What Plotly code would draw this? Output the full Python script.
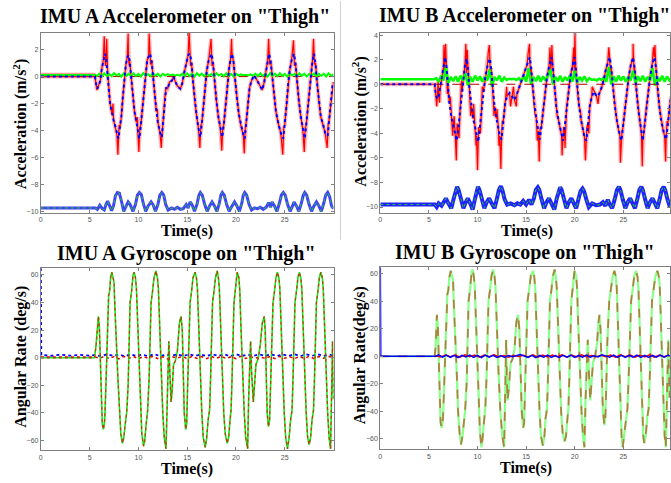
import numpy as np
import plotly.graph_objects as go

# ---------------- DATA ----------------
TIME_TICKS_LEFT = [0, 5, 10, 15, 20, 25]
TIME_TICKS_RIGHT = [0, 5, 10, 15, 20, 25]
ACC_A_TICKS = [-10, -8, -6, -4, -2, 0, 2]
ACC_B_TICKS = [-10, -8, -6, -4, -2, 0, 2, 4]
GYRO_TICKS = [-60, -40, -20, 0, 20, 40, 60]

TITLES = ['IMU A Accelerometer on "Thigh"', 'IMU B Accelerometer on "Thigh"',
          'IMU A Gyroscope on "Thigh"', 'IMU B Gyroscope on "Thigh"']
YLABELS = ['Acceleration (m/s<sup>2</sup>)', 'Acceleration (m/s<sup>2</sup>)',
           'Angular Rate (deg/s)', 'Angular Rate(deg/s)']
XLABEL = 'Time(s)'

# IMU A accelerometer, forward axis (smooth estimate, blue dotted / red)
ACC_A_X = [(0, 0.0), (5.55, 0.0), (5.65, -0.5), (5.8, -0.9), (5.95, -0.6), (6.1, -0.3), (6.25, 0.6), (6.4, 1.2),
           (6.58, 1.7), (6.7, 1.3), (6.85, 0.3), (6.95, -0.8), (7.1, -2.0), (7.3, -2.8), (7.45, -3.2), (7.6, -3.6),
           (7.8, -4.3), (7.95, -4.6), (8.1, -3.8), (8.25, -3.0), (8.4, -1.6), (8.55, -0.3), (8.7, 0.8), (8.85, 1.4),
           (8.98, 1.6), (9.1, 1.2), (9.25, 0.0), (9.4, -1.5), (9.6, -2.6), (9.8, -3.4), (9.95, -4.2), (10.1, -4.6),
           (10.25, -3.6), (10.45, -2.0), (10.6, -0.8), (10.75, 0.4), (10.9, 1.2), (11.05, 1.5), (11.2, 1.7),
           (11.35, 1.2), (11.5, 0.0), (11.65, -1.4), (11.85, -2.6), (12.0, -3.4), (12.2, -4.1), (12.4, -4.5),
           (12.55, -3.2), (12.7, -1.6), (12.85, -0.8), (13.0, -0.9), (13.2, -0.4), (13.45, -0.3), (13.6, 0.0),
           (13.8, -0.4), (14.0, -0.7), (14.3, -0.9), (14.5, -0.5), (14.7, 0.3), (14.9, 1.0), (15.1, 1.6),
           (15.3, 1.7), (15.45, 1.0), (15.6, -0.4), (15.75, -1.6), (15.95, -2.8), (16.15, -3.8), (16.35, -4.5),
           (16.5, -3.5), (16.7, -2.0), (16.85, -0.6), (17.0, 0.4), (17.2, 1.2), (17.5, 1.7), (17.65, 1.0),
           (17.8, -0.4), (18.0, -1.8), (18.2, -3.0), (18.4, -3.8), (18.6, -4.5), (18.75, -3.6), (18.95, -2.0),
           (19.1, -0.6), (19.3, 0.6), (19.45, 1.3), (19.6, 1.7), (19.75, 1.1), (19.9, -0.2), (20.1, -1.6),
           (20.3, -2.8), (20.55, -3.8), (20.75, -4.3), (20.9, -4.6), (21.05, -3.4), (21.25, -1.8), (21.4, -0.8),
           (21.6, -0.3), (21.85, 0.1), (22.1, -0.2), (22.4, -0.6), (22.7, -1.0), (22.9, -0.4), (23.1, 0.5),
           (23.25, 1.2), (23.4, 1.7), (23.55, 1.2), (23.7, 0.0), (23.9, -1.4), (24.1, -2.6), (24.35, -3.5),
           (24.6, -4.2), (24.85, -4.6), (25.0, -3.6), (25.2, -2.0), (25.35, -0.6), (25.5, 0.4), (25.7, 1.2),
           (25.95, 1.7), (26.1, 1.0), (26.25, -0.4), (26.45, -1.8), (26.65, -3.0), (26.85, -3.9), (27.05, -4.6),
           (27.2, -3.6), (27.4, -2.0), (27.55, -0.6), (27.7, 0.5), (27.85, 1.2), (28.0, 1.7), (28.15, 1.0),
           (28.3, -0.4), (28.5, -1.8), (28.7, -3.0), (28.95, -3.6), (29.15, -4.2), (29.4, -4.4), (29.55, -3.2),
           (29.75, -1.8), (29.9, -0.6), (30.0, -0.4)]
# extra raw-signal excursions of the red (measured) trace
ACC_A_X_SPIKES = [(5.75, -1.0), (6.5, 3.0), (6.62, 0.8), (6.75, 2.8), (7.4, -2.0), (7.9, -5.8), (8.02, -3.6),
                  (8.95, 3.2), (9.05, 0.8), (9.9, -3.0), (10.05, -5.6), (10.15, -3.8), (11.1, 3.2), (11.25, 0.9),
                  (11.95, -2.4), (12.35, -5.3), (12.45, -3.8), (15.2, 3.3), (15.35, 0.8), (16.3, -5.3),
                  (16.4, -3.6), (17.45, 2.8), (17.55, 0.8), (18.55, -5.5), (18.65, -3.8), (19.55, 2.8),
                  (20.85, -5.7), (20.95, -3.8), (23.35, 2.8), (23.45, 0.9), (24.8, -5.8), (24.9, -3.8),
                  (25.9, 2.7), (26.0, 0.8), (27.0, -5.6), (27.1, -3.8), (27.95, 2.8), (28.05, 0.9),
                  (29.35, -5.3), (29.45, -3.5)]
# IMU A accelerometer, lateral axis (green), sampled every 0.25 s from 5.5 s
ACC_A_Y_LEVEL = 0.12
ACC_A_Y = [0.12, 0.05, 0.22, 0.00, 0.25, 0.05, 0.20, 0.02, 0.26, 0.08,
           0.20, 0.00, 0.24, 0.06, 0.22, 0.02, 0.25, 0.04, 0.20, 0.00,
           0.26, 0.08, 0.18, 0.03, 0.24, 0.05, 0.22, 0.00, 0.20, 0.08,
           0.18, 0.10, 0.15, 0.08, 0.14, 0.06, 0.22, 0.02, 0.25, 0.04,
           0.20, 0.00, 0.26, 0.06, 0.22, 0.02, 0.24, 0.05, 0.20, 0.00,
           0.25, 0.08, 0.20, 0.03, 0.24, 0.05, 0.20, 0.00, 0.22, 0.08,
           0.16, 0.10, 0.14, 0.08, 0.16, 0.06, 0.22, 0.02, 0.25, 0.04,
           0.20, 0.00, 0.26, 0.06, 0.22, 0.02, 0.24, 0.05, 0.20, 0.00,
           0.25, 0.08, 0.20, 0.03, 0.24, 0.05, 0.22, 0.00, 0.20, 0.06,
           0.24, 0.02, 0.20, 0.05, 0.22, 0.00, 0.25, 0.06, 0.18]
# IMU A accelerometer, vertical axis (blue, near gravity)
ACC_A_Z = [(0, -9.75), (5.6, -9.75), (5.8, -9.85), (6.05, -9.55), (6.3, -9.8), (6.5, -9.9), (6.7, -9.45),
           (6.85, -9.25), (7.0, -9.5), (7.25, -9.95), (7.45, -9.6), (7.65, -8.85), (7.85, -8.6), (8.05, -8.65),
           (8.25, -9.2), (8.5, -10.0), (8.75, -9.6), (8.95, -9.3), (9.15, -9.5), (9.45, -10.0), (9.7, -9.5),
           (9.9, -8.8), (10.1, -8.6), (10.3, -8.75), (10.5, -9.4), (10.75, -10.0), (11.0, -9.6), (11.3, -9.3),
           (11.5, -9.5), (11.75, -10.0), (12.0, -9.5), (12.2, -8.8), (12.4, -8.6), (12.6, -8.8), (12.8, -9.5),
           (13.05, -9.9), (13.4, -9.75), (13.7, -9.85), (14.0, -9.7), (14.3, -9.85), (14.6, -9.8), (14.9, -9.5),
           (15.1, -9.75), (15.3, -9.3), (15.5, -9.5), (15.75, -10.0), (16.0, -9.5), (16.2, -8.8), (16.35, -8.6),
           (16.55, -8.8), (16.8, -9.5), (17.05, -10.0), (17.3, -9.6), (17.55, -9.3), (17.8, -9.6), (18.05, -10.0),
           (18.3, -9.4), (18.45, -8.8), (18.6, -8.6), (18.8, -8.8), (19.05, -9.5), (19.3, -10.0), (19.6, -9.6),
           (19.85, -9.3), (20.1, -9.6), (20.35, -10.0), (20.6, -9.4), (20.75, -8.8), (20.9, -8.6), (21.1, -8.8),
           (21.35, -9.5), (21.6, -9.9), (21.9, -9.75), (22.2, -9.8), (22.5, -9.7), (22.8, -9.85), (23.1, -9.7),
           (23.35, -9.35), (23.55, -9.7), (23.7, -9.3), (23.95, -9.6), (24.2, -10.0), (24.45, -9.4),
           (24.65, -8.8), (24.85, -8.6), (25.05, -8.8), (25.3, -9.5), (25.55, -10.0), (25.8, -9.6), (25.95, -9.3),
           (26.2, -9.6), (26.45, -10.0), (26.7, -9.4), (26.9, -8.8), (27.05, -8.6), (27.25, -8.8), (27.5, -9.5),
           (27.75, -10.0), (28.0, -9.6), (28.25, -9.3), (28.5, -9.6), (28.75, -10.0), (29.0, -9.4), (29.2, -8.8),
           (29.4, -8.6), (29.6, -8.9), (29.8, -9.6), (30.0, -9.8)]

# IMU B accelerometer, forward axis
ACC_B_X = [(0, 0.0), (5.6, 0.0), (5.7, -0.8), (5.85, -1.2), (6.0, -1.0), (6.15, -0.4), (6.3, 0.4), (6.5, 1.4),
           (6.66, 2.2), (6.8, 1.5), (6.95, 0.0), (7.1, -1.5), (7.3, -2.6), (7.5, -3.3), (7.7, -4.0), (7.86, -4.6),
           (8.0, -3.8), (8.2, -2.2), (8.4, -0.6), (8.55, 0.6), (8.7, 1.5), (8.88, 2.1), (9.0, 1.4), (9.15, -0.2),
           (9.35, -1.8), (9.55, -2.8), (9.75, -3.5), (9.9, -4.2), (10.07, -4.7), (10.2, -3.8), (10.4, -2.2),
           (10.6, -0.6), (10.8, 0.6), (11.0, 1.4), (11.27, 2.1), (11.4, 1.3), (11.55, -0.2), (11.75, -1.8),
           (11.95, -2.8), (12.15, -3.6), (12.3, -4.2), (12.47, -4.5), (12.65, -3.0), (12.85, -1.5), (13.05, -1.0),
           (13.3, -0.7), (13.55, -1.0), (13.8, -1.3), (14.05, -0.8), (14.3, -0.2), (14.55, 0.4), (14.8, 1.0),
           (15.1, 1.6), (15.37, 2.2), (15.5, 1.4), (15.65, 0.0), (15.85, -1.6), (16.05, -2.8), (16.25, -3.8),
           (16.4, -4.5), (16.55, -3.6), (16.75, -2.0), (16.95, -0.6), (17.15, 0.6), (17.35, 1.4), (17.6, 2.2),
           (17.75, 1.4), (17.9, -0.2), (18.1, -1.8), (18.3, -2.8), (18.5, -3.6), (18.65, -4.2), (18.8, -4.6),
           (18.95, -3.6), (19.15, -2.0), (19.35, -0.6), (19.55, 0.6), (19.75, 1.4), (19.98, 2.2), (20.1, 1.4),
           (20.25, -0.2), (20.45, -1.8), (20.65, -2.9), (20.85, -3.7), (21.0, -4.3), (21.2, -4.6), (21.35, -3.2),
           (21.55, -1.8), (21.75, -1.0), (22.0, -0.6), (22.25, -1.0), (22.5, -0.8), (22.75, -0.3), (23.0, 0.4),
           (23.2, 1.2), (23.4, 1.8), (23.6, 2.2), (23.75, 1.4), (23.9, 0.0), (24.1, -1.6), (24.3, -2.8),
           (24.5, -3.7), (24.65, -4.2), (24.8, -4.6), (24.95, -3.6), (25.15, -2.0), (25.35, -0.6), (25.55, 0.6),
           (25.75, 1.5), (26.0, 2.2), (26.15, 1.4), (26.3, -0.2), (26.5, -1.8), (26.7, -3.0), (26.85, -3.9),
           (27.0, -4.6), (27.15, -3.6), (27.35, -2.0), (27.55, -0.6), (27.75, 0.6), (27.95, 1.5), (28.2, 2.2),
           (28.35, 1.4), (28.5, -0.2), (28.7, -1.8), (28.9, -3.0), (29.1, -3.8), (29.25, -4.2), (29.4, -4.5),
           (29.55, -3.4), (29.75, -2.0), (29.9, -1.0)]
ACC_B_X_SPIKES = [(5.8, -1.8), (5.95, 0.3), (6.1, -1.5), (6.55, 3.2), (6.6, 0.8), (6.72, 3.3), (6.9, -0.8),
                  (7.2, -1.0), (7.45, -4.2), (7.6, -2.6), (7.82, -6.2), (7.9, -3.2), (8.1, -4.4), (8.35, 0.3),
                  (8.8, 3.3), (8.85, 0.9), (8.95, 2.8), (9.3, -2.6), (9.6, -1.6), (9.85, -5.0), (10.0, -7.0),
                  (10.1, -3.5), (10.3, -4.0), (10.5, -0.2), (11.1, 2.6), (11.22, 3.2), (11.3, 0.9), (11.7, -2.6),
                  (12.0, -2.0), (12.2, -5.0), (12.4, -6.9), (12.55, -3.0), (12.75, -2.4), (13.0, -0.2),
                  (13.4, -1.8), (13.7, -0.2), (14.0, -1.8), (15.2, 2.5), (15.35, 3.3), (15.45, 0.8), (15.9, -2.4),
                  (16.15, -4.6), (16.35, -6.3), (16.45, -3.5), (17.45, 3.0), (17.55, 1.0), (17.65, 3.2),
                  (18.2, -2.6), (18.7, -5.8), (18.85, -3.5), (19.0, -5.2), (19.9, 3.0), (19.95, 1.0), (20.02, 4.2),
                  (20.15, 0.5), (20.6, -2.2), (21.1, -6.2), (21.25, -3.5), (21.45, -4.0), (21.8, -0.2),
                  (22.4, -1.6), (23.5, 3.0), (23.65, 1.0), (24.2, -2.0), (24.7, -6.4), (24.85, -4.0), (26.0, 3.3),
                  (26.1, 1.0), (26.95, -6.7), (27.1, -4.0), (28.1, 3.0), (28.25, 3.2), (28.4, 0.5), (29.35, -6.3),
                  (29.5, -3.0)]
ACC_B_Y_LEVEL = 0.4
ACC_B_Y = [0.4, 0.5, 0.2, 0.7, 0.3, 1.4, 0.1, 0.6, 0.25, 0.65,
           0.2, 0.7, 0.3, 0.9, -0.1, 0.6, 0.2, 0.7, 0.3, 0.65,
           0.2, 0.6, 0.3, 1.2, -0.2, 0.6, 0.3, 0.7, 0.2, 0.55,
           0.35, 0.45, 0.4, 0.45, 0.35, 0.5, 0.25, 0.7, 0.2, 1.3,
           0.0, 0.6, 0.25, 0.7, 0.2, 0.65, 0.3, 0.7, 1.2, 0.0,
           0.6, 0.25, 0.7, 0.2, 0.6, 0.3, 0.7, 0.2, 1.1, 0.1,
           0.6, 0.3, 0.65, 0.25, 0.5, 0.35, 0.4, 0.3, 0.45, 0.35,
           0.55, 0.2, 1.4, 0.0, 0.65, 0.2, 0.7, 0.3, 0.65, 0.2,
           0.6, 0.3, 1.1, 0.1, 0.65, 0.25, 0.7, 0.2, 0.6, 0.3,
           1.3, -0.1, 0.6, 0.25, 0.7, 0.2, 0.65, 0.3, 0.5]
ACC_B_Z = [(0, -9.8), (5.6, -9.8), (5.8, -10.0), (6.0, -9.7), (6.3, -9.9), (6.5, -9.6), (6.75, -9.3), (7.0, -9.7),
           (7.3, -10.1), (7.55, -9.3), (7.75, -8.6), (7.9, -8.35), (8.05, -8.6), (8.3, -9.3), (8.55, -10.1),
           (8.8, -9.6), (9.0, -9.3), (9.25, -9.7), (9.5, -10.2), (9.75, -9.3), (9.9, -8.6), (10.05, -8.35),
           (10.2, -8.6), (10.45, -9.4), (10.7, -10.1), (10.95, -9.6), (11.2, -9.3), (11.45, -9.7), (11.75, -10.1),
           (12.0, -9.3), (12.2, -8.6), (12.4, -8.3), (12.55, -8.6), (12.8, -9.4), (13.05, -9.8), (13.4, -9.7),
           (13.8, -9.85), (14.1, -9.7), (14.4, -9.8), (14.7, -9.5), (15.0, -9.8), (15.3, -9.4), (15.55, -9.8),
           (15.8, -9.3), (16.0, -8.6), (16.2, -8.4), (16.35, -8.6), (16.6, -9.4), (16.85, -10.1), (17.1, -9.6),
           (17.35, -9.3), (17.6, -9.7), (17.9, -10.2), (18.15, -9.3), (18.35, -8.6), (18.5, -8.4), (18.65, -8.6),
           (18.9, -9.4), (19.15, -10.1), (19.4, -9.6), (19.65, -9.3), (19.9, -9.7), (20.15, -10.1), (20.4, -9.3),
           (20.6, -8.7), (20.8, -8.5), (20.95, -8.7), (21.2, -9.4), (21.45, -10.0), (21.8, -9.7), (22.2, -9.85),
           (22.6, -9.8), (22.9, -9.6), (23.15, -9.9), (23.4, -9.4), (23.6, -9.8), (23.85, -10.1), (24.1, -9.4),
           (24.35, -8.6), (24.55, -8.35), (24.7, -8.6), (24.95, -9.4), (25.2, -10.1), (25.45, -9.6), (25.7, -9.3),
           (25.95, -9.7), (26.2, -10.1), (26.45, -9.3), (26.65, -8.6), (26.85, -8.35), (27.0, -8.6),
           (27.25, -9.4), (27.5, -10.1), (27.75, -9.6), (28.0, -9.3), (28.25, -9.7), (28.5, -10.1), (28.75, -9.3),
           (28.95, -8.6), (29.15, -8.35), (29.3, -8.6), (29.55, -9.4), (29.8, -10.0)]

# IMU A gyroscope, sagittal axis (large swings)
GYRO_A_Z = [(0, 0), (5.5, 0), (5.65, 8), (5.8, 25), (5.9, 30), (6.0, 22), (6.1, 0), (6.2, -30), (6.3, -48),
            (6.42, -52), (6.55, -45), (6.65, -25), (6.75, 0), (6.85, 25), (6.95, 45), (7.05, 48), (7.15, 58),
            (7.27, 62), (7.4, 58), (7.5, 55), (7.6, 35), (7.7, 10), (7.8, 2), (7.9, -15), (8.05, -40),
            (8.2, -55), (8.37, -62), (8.5, -58), (8.65, -48), (8.8, -40), (8.95, -20), (9.05, 10), (9.15, 40),
            (9.3, 48), (9.45, 60), (9.57, 62), (9.7, 58), (9.8, 50), (9.9, 30), (10.0, 5), (10.1, -5),
            (10.2, -30), (10.35, -55), (10.53, -64), (10.65, -60), (10.8, -48), (10.95, -38), (11.1, -15),
            (11.2, 15), (11.3, 40), (11.45, 48), (11.6, 58), (11.8, 63), (11.95, 58), (12.05, 50), (12.15, 25),
            (12.25, 3), (12.35, -10), (12.5, -40), (12.65, -58), (12.83, -66), (12.95, -30), (13.05, 5),
            (13.12, 12), (13.22, -10), (13.35, -32), (13.45, -25), (13.6, -5), (13.8, -2), (14.0, 5),
            (14.2, 25), (14.37, 30), (14.5, 20), (14.6, -10), (14.7, -40), (14.85, -52), (14.95, -48),
            (15.05, -20), (15.15, 10), (15.3, 40), (15.45, 48), (15.6, 58), (15.8, 62), (15.95, 58), (16.05, 50),
            (16.15, 25), (16.25, 3), (16.35, -10), (16.5, -40), (16.65, -58), (16.85, -65), (17.0, -58),
            (17.15, -45), (17.3, -38), (17.4, -15), (17.5, 15), (17.6, 40), (17.75, 48), (17.9, 58),
            (18.08, 63), (18.2, 58), (18.3, 50), (18.4, 25), (18.5, 2), (18.6, -10), (18.75, -40), (18.9, -55),
            (19.1, -62), (19.25, -58), (19.4, -45), (19.5, -38), (19.6, -15), (19.7, 15), (19.8, 40),
            (19.95, 50), (20.13, 62), (20.3, 58), (20.4, 48), (20.5, 25), (20.6, 3), (20.7, -10), (20.85, -40),
            (21.0, -58), (21.2, -66), (21.3, -30), (21.42, 5), (21.5, 12), (21.6, -10), (21.78, -32),
            (21.9, -20), (22.05, -5), (22.3, 0), (22.5, 10), (22.7, 25), (22.9, 30), (23.0, 20), (23.1, -10),
            (23.2, -40), (23.33, -50), (23.45, -45), (23.55, -20), (23.65, 10), (23.8, 40), (23.95, 48),
            (24.1, 58), (24.25, 62), (24.4, 58), (24.5, 50), (24.6, 25), (24.7, 3), (24.8, -10), (24.95, -40),
            (25.1, -58), (25.28, -66), (25.45, -58), (25.6, -45), (25.75, -38), (25.85, -15), (25.95, 15),
            (26.05, 40), (26.2, 48), (26.35, 58), (26.5, 62), (26.65, 58), (26.75, 50), (26.85, 25), (26.95, 3),
            (27.05, -10), (27.2, -40), (27.35, -58), (27.5, -63), (27.65, -58), (27.8, -45), (27.95, -38),
            (28.05, -15), (28.15, 15), (28.25, 40), (28.4, 48), (28.55, 58), (28.7, 62), (28.85, 58),
            (28.95, 50), (29.05, 25), (29.15, 3), (29.25, -10), (29.4, -40), (29.55, -58), (29.7, -66),
            (29.8, -20), (29.9, 12), (30.0, -30)]
GYRO_A_X = [(0, 65), (0.05, 2.0), (1.0, 1.4), (2.0, 2.2), (3.0, 1.5), (4.0, 2.1), (5.0, 1.5), (5.6, 2.0),
            (6.2, 1.0), (6.8, 2.6), (7.4, 1.4), (8.0, 2.4), (8.6, 1.0), (9.2, 2.5), (9.8, 1.3), (10.4, 2.3),
            (11.0, 1.2), (11.6, 2.6), (12.2, 1.3), (12.8, 2.2), (13.4, 1.5), (14.0, 2.4), (14.6, 1.2),
            (15.2, 2.5), (15.8, 1.3), (16.4, 2.3), (17.0, 1.2), (17.6, 2.5), (18.2, 1.4), (18.8, 2.4),
            (19.4, 1.2), (20.0, 2.6), (20.6, 1.3), (21.2, 2.2), (21.8, 1.5), (22.4, 2.3), (23.0, 1.4),
            (23.6, 2.5), (24.2, 1.2), (24.8, 2.4), (25.4, 1.3), (26.0, 2.5), (26.6, 1.2), (27.2, 2.4),
            (27.8, 1.4), (28.4, 2.5), (29.0, 1.3), (29.6, 2.2), (30.0, 1.6)]
GYRO_A_Y = [(0, 0.5), (5.6, 0.5), (6.0, -0.4), (6.5, 1.0), (7.0, -0.6), (7.5, 0.8), (8.0, -0.8), (8.5, 1.0),
            (9.0, -0.5), (9.5, 0.9), (10.0, -0.7), (10.5, 0.8), (11.0, -0.4), (11.5, 1.1), (12.0, -0.6),
            (12.5, 0.7), (13.0, -0.8), (13.5, 0.6), (14.0, -0.2), (14.5, 0.9), (15.0, -0.6), (15.5, 1.0),
            (16.0, -0.5), (16.5, 0.8), (17.0, -0.7), (17.5, 0.9), (18.0, -0.4), (18.5, 1.0), (19.0, -0.6),
            (19.5, 0.8), (20.0, -0.7), (20.5, 1.1), (21.0, -0.5), (21.5, 0.7), (22.0, -0.3), (22.5, 0.6),
            (23.0, -0.5), (23.5, 0.9), (24.0, -0.6), (24.5, 1.0), (25.0, -0.4), (25.5, 0.8), (26.0, -0.7),
            (26.5, 0.9), (27.0, -0.5), (27.5, 1.0), (28.0, -0.6), (28.5, 0.8), (29.0, -0.4), (29.5, 0.9),
            (30.0, 0.2)]

# IMU B gyroscope
GYRO_B_Z = [(0, 0), (5.6, 0), (5.7, 8), (5.75, 25), (5.82, 30), (5.92, 22), (6.0, 0), (6.1, -30), (6.2, -48),
            (6.32, -52), (6.45, -45), (6.55, -25), (6.65, 0), (6.78, 25), (6.9, 45), (7.0, 48), (7.12, 58),
            (7.25, 62), (7.38, 58), (7.48, 55), (7.58, 35), (7.68, 10), (7.78, 2), (7.88, -15), (8.0, -40),
            (8.15, -55), (8.3, -64), (8.45, -58), (8.6, -48), (8.72, -40), (8.88, -20), (8.98, 10), (9.08, 40),
            (9.22, 48), (9.38, 60), (9.5, 63), (9.62, 58), (9.72, 50), (9.82, 30), (9.92, 5), (10.02, -5),
            (10.12, -30), (10.25, -55), (10.4, -66), (10.52, -60), (10.66, -48), (10.8, -38), (10.93, -15),
            (11.03, 15), (11.13, 40), (11.28, 48), (11.43, 58), (11.6, 63), (11.75, 58), (11.85, 50),
            (11.95, 25), (12.05, 3), (12.15, -10), (12.35, -40), (12.55, -58), (12.74, -66), (12.82, -30),
            (12.9, 5), (12.95, 12), (13.0, -10), (13.08, -32), (13.2, -25), (13.4, -5), (13.6, -2), (13.8, 5),
            (14.0, 25), (14.17, 30), (14.3, 20), (14.4, -10), (14.55, -40), (14.7, -52), (14.8, -48),
            (14.9, -20), (15.0, 10), (15.15, 40), (15.3, 48), (15.48, 58), (15.7, 62), (15.83, 58), (15.93, 50),
            (16.03, 25), (16.13, 3), (16.23, -10), (16.38, -40), (16.53, -58), (16.73, -65), (16.88, -58),
            (17.0, -45), (17.15, -38), (17.25, -15), (17.35, 15), (17.45, 40), (17.6, 48), (17.75, 58),
            (17.93, 63), (18.05, 58), (18.15, 50), (18.25, 25), (18.35, 2), (18.45, -10), (18.6, -40),
            (18.75, -55), (18.95, -62), (19.1, -58), (19.25, -45), (19.35, -38), (19.45, -15), (19.55, 15),
            (19.65, 40), (19.8, 50), (19.98, 62), (20.15, 58), (20.25, 48), (20.35, 25), (20.45, 3),
            (20.55, -10), (20.7, -40), (20.85, -58), (21.0, -66), (21.12, -30), (21.27, 5), (21.34, 12),
            (21.45, -10), (21.6, -32), (21.72, -20), (21.87, -5), (22.1, 0), (22.3, 10), (22.45, 25),
            (22.54, 30), (22.65, 20), (22.75, -10), (22.9, -40), (23.05, -50), (23.15, -45), (23.25, -20),
            (23.35, 10), (23.55, 40), (23.7, 48), (23.9, 58), (24.08, 62), (24.22, 58), (24.32, 50),
            (24.42, 25), (24.52, 3), (24.62, -10), (24.72, -40), (24.82, -58), (24.93, -66), (25.08, -58),
            (25.25, -45), (25.42, -38), (25.55, -15), (25.68, 15), (25.8, 40), (25.95, 48), (26.12, 58),
            (26.3, 62), (26.45, 58), (26.55, 50), (26.65, 25), (26.75, 3), (26.85, -10), (26.95, -40),
            (27.05, -58), (27.15, -63), (27.3, -58), (27.45, -45), (27.6, -38), (27.72, -15), (27.85, 15),
            (27.95, 40), (28.1, 48), (28.3, 58), (28.5, 62), (28.65, 58), (28.75, 50), (28.85, 25), (28.95, 3),
            (29.05, -10), (29.15, -40), (29.25, -58), (29.37, -66), (29.5, -20), (29.62, 12), (29.75, -30),
            (29.9, -10)]
GYRO_B_X = [(0, 65), (0.05, 0), (5.7, 0), (6.0, 1.0), (6.4, -0.6), (6.8, 0.8), (7.2, -0.9), (7.6, 0.6),
            (8.0, -1.0), (8.4, 0.7), (8.8, -0.5), (9.2, 0.9), (9.6, -0.8), (10.0, 0.6), (10.4, -1.0), (10.8, 0.8),
            (11.2, -0.6), (11.6, 0.7), (12.0, -0.9), (12.4, 0.5), (12.8, -0.8), (13.2, 0.6), (13.6, -0.4),
            (14.0, 0.5), (14.4, 1.2), (14.8, 0.2), (15.2, -0.8), (15.6, 0.7), (16.0, -1.0), (16.4, 0.6),
            (16.8, -0.7), (17.2, 0.8), (17.6, -0.9), (18.0, 0.5), (18.4, -0.8), (18.8, 0.7), (19.2, -0.6),
            (19.6, 0.9), (20.0, -0.9), (20.4, 0.6), (20.8, -0.7), (21.2, 0.8), (21.6, -0.6), (22.0, 0.4),
            (22.4, -0.5), (22.8, 1.0), (23.2, 0.2), (23.6, -0.7), (24.0, 0.8), (24.4, -0.9), (24.8, 0.6),
            (25.2, -0.8), (25.6, 0.7), (26.0, -0.6), (26.4, 0.9), (26.8, -0.8), (27.2, 0.6), (27.6, -0.9),
            (28.0, 0.7), (28.4, -0.7), (28.8, 0.8), (29.2, -0.6), (29.6, 0.7), (30.0, -0.4)]
GYRO_B_Y = [(5.7, 0.3), (6.2, -0.5), (6.7, 0.9), (7.2, -0.4), (7.7, 0.8), (8.2, -0.6), (8.7, 1.0), (9.2, -0.3),
            (9.7, 0.8), (10.2, -0.6), (10.7, 0.9), (11.2, -0.4), (11.7, 1.0), (12.2, -0.5), (12.7, 0.6),
            (13.2, -0.7), (13.7, 0.5), (14.2, -0.2), (14.7, 0.8), (15.2, -0.5), (15.7, 1.0), (16.2, -0.6),
            (16.7, 0.8), (17.2, -0.5), (17.7, 0.9), (18.2, -0.4), (18.7, 1.0), (19.2, -0.6), (19.7, 0.8),
            (20.2, -0.5), (20.7, 1.0), (21.2, -0.4), (21.7, 0.6), (22.2, -0.3), (22.7, 0.7), (23.2, -0.4),
            (23.7, 0.9), (24.2, -0.6), (24.7, 1.0), (25.2, -0.4), (25.7, 0.8), (26.2, -0.6), (26.7, 0.9),
            (27.2, -0.5), (27.7, 1.0), (28.2, -0.6), (28.7, 0.8), (29.2, -0.4), (29.7, 0.9)]

NOISE_START, NOISE_STEP = 5.5, 0.25

# ---------------- FIGURE ----------------
W, H = 671, 483


def px(x):
    return x / W


def py(y):
    return 1 - y / H


def split(pairs):
    t, v = zip(*pairs)
    return list(t), list(v)


def merged(a, b):
    return split(sorted(a + b, key=lambda p: p[0]))


def grid(values, level):
    t = [0.0] + [NOISE_START + NOISE_STEP * i for i in range(len(values))]
    return t, [level] + list(values)


RED = "#ff0000"
BLUE = "#0000ff"
GREEN = "#00ff00"

fig = go.Figure()


def add(x, y, ax, color, width=1.2, dash="solid"):
    xa = "x" if ax == 1 else f"x{ax}"
    ya = "y" if ax == 1 else f"y{ax}"
    fig.add_trace(go.Scatter(x=x, y=y, xaxis=xa, yaxis=ya, mode="lines",
                             line=dict(color=color, width=width, dash=dash),
                             showlegend=False, hoverinfo="skip"))


# --- Panel 1: IMU A accelerometer
t, v = merged(ACC_A_X, ACC_A_X_SPIKES)
add(t, v, 1, "rgba(255,60,60,0.35)", 4)
add(t, v, 1, RED, 1.2)
add([0, 30], [0, 0], 1, "#c00000", 1, "dash")
add([0, 5.6], [0.22, 0.22], 1, "rgba(255,110,110,0.7)", 2)
t, v = grid(ACC_A_Y, ACC_A_Y_LEVEL)
add(t, v, 1, GREEN, 2)
t, v = split(ACC_A_X)
add(t, v, 1, BLUE, 2, "dot")
t, v = split(ACC_A_Z)
add(t, v, 1, "rgba(30,30,255,0.85)", 3)
add(t, v, 1, "#22cc22", 1, "dot")

# --- Panel 2: IMU B accelerometer
t, v = merged(ACC_B_X, ACC_B_X_SPIKES)
add(t, v, 2, "rgba(255,60,60,0.35)", 4)
add(t, v, 2, RED, 1.2)
t, v = grid(ACC_B_Y, ACC_B_Y_LEVEL)
add(t, v, 2, GREEN, 2.5)
add([0, 30], [0, 0], 2, "#b00000", 1.2, "dash")
t, v = split(ACC_B_X)
add(t, v, 2, BLUE, 2, "dot")
t, v = split(ACC_B_Z)
add(t, v, 2, "rgba(10,10,255,0.9)", 4)
add(t, v, 2, "#22cc22", 1, "dot")

# --- Panel 3: IMU A gyroscope
t, v = split(GYRO_A_X)
add(t, v, 3, BLUE, 1.8, "dot")
t, v = split(GYRO_A_Y)
add(t, v, 3, "#dd0000", 1.5, "dot")
t, v = split(GYRO_A_Z)
add(t, v, 3, "rgba(0,230,0,0.9)", 1.6)
add(t, v, 3, "rgba(220,20,0,0.8)", 1.3, "dot")

# --- Panel 4: IMU B gyroscope
t, v = split(GYRO_B_Z)
add(t, v, 4, "rgba(60,255,60,0.6)", 2.2)
add(t, v, 4, "rgba(200,30,0,0.55)", 1.8, "dash")
t, v = split(GYRO_B_Y)
add(t, v, 4, "#ee0000", 1.5)
t, v = split(GYRO_B_X)
add(t, v, 4, BLUE, 1.5)

axis_common = dict(showline=True, linecolor="#808080", linewidth=1, mirror="ticks", ticks="inside",
                   ticklen=3, tickcolor="#808080", showgrid=False, zeroline=False,
                   tickfont=dict(family="Arial", size=7, color="#555555"))

fig.update_layout(
    width=W, height=H, margin=dict(l=0, r=0, t=0, b=0),
    paper_bgcolor="white", plot_bgcolor="white", showlegend=False,
    xaxis=dict(domain=[px(39), px(333)], range=[0, 30], anchor="y", tickvals=TIME_TICKS_LEFT, **axis_common),
    yaxis=dict(domain=[py(213), py(32)], range=[-10.1, 3.25], anchor="x", tickvals=ACC_A_TICKS, **axis_common),
    xaxis2=dict(domain=[px(380), 1], range=[0, 29.8], anchor="y2", tickvals=TIME_TICKS_RIGHT, **axis_common),
    yaxis2=dict(domain=[py(213), py(32)], range=[-10.46, 4.19], anchor="x2", tickvals=ACC_B_TICKS, **axis_common),
    xaxis3=dict(domain=[px(39), px(333)], range=[0, 30], anchor="y3", tickvals=TIME_TICKS_LEFT, **axis_common),
    yaxis3=dict(domain=[py(452), py(269)], range=[-67, 64.8], anchor="x3", tickvals=GYRO_TICKS, **axis_common),
    xaxis4=dict(domain=[px(380), 1], range=[0, 29.8], anchor="y4", tickvals=TIME_TICKS_RIGHT, **axis_common),
    yaxis4=dict(domain=[py(451), py(268)], range=[-67.4, 64.5], anchor="x4", tickvals=GYRO_TICKS, **axis_common),
)

SERIF = "Liberation Serif, Times New Roman, serif"
title_pos = [(184, 16), (525, 15), (185, 254), (525, 253)]
ylab_pos = [(18, 124), (359, 121), (19, 358), (359, 356)]
xlab_pos = [(186, 231), (527, 231), (186, 471), (526, 470)]
for i in range(4):
    fig.add_annotation(text=f"<b>{TITLES[i]}</b>", x=px(title_pos[i][0]), y=py(title_pos[i][1]),
                       xref="paper", yref="paper", showarrow=False, xanchor="center", yanchor="middle",
                       font=dict(family=SERIF, size=20, color="black"))
    fig.add_annotation(text=f"<b>{YLABELS[i]}</b>", x=px(ylab_pos[i][0]), y=py(ylab_pos[i][1]),
                       xref="paper", yref="paper", showarrow=False, xanchor="center", yanchor="middle",
                       textangle=-90, font=dict(family=SERIF, size=16, color="black"))
    fig.add_annotation(text=f"<b>{XLABEL}</b>", x=px(xlab_pos[i][0]), y=py(xlab_pos[i][1]),
                       xref="paper", yref="paper", showarrow=False, xanchor="center", yanchor="middle",
                       font=dict(family=SERIF, size=16, color="black"))

fig.add_shape(type="line", xref="paper", yref="paper", x0=px(340), x1=px(340), y0=py(240), y1=1,
              line=dict(color="#d0d0d0", width=1))

fig.write_html("out.html", config={"displayModeBar": False},
               post_script="document.body.style.margin='0';document.body.style.overflow='hidden';")
